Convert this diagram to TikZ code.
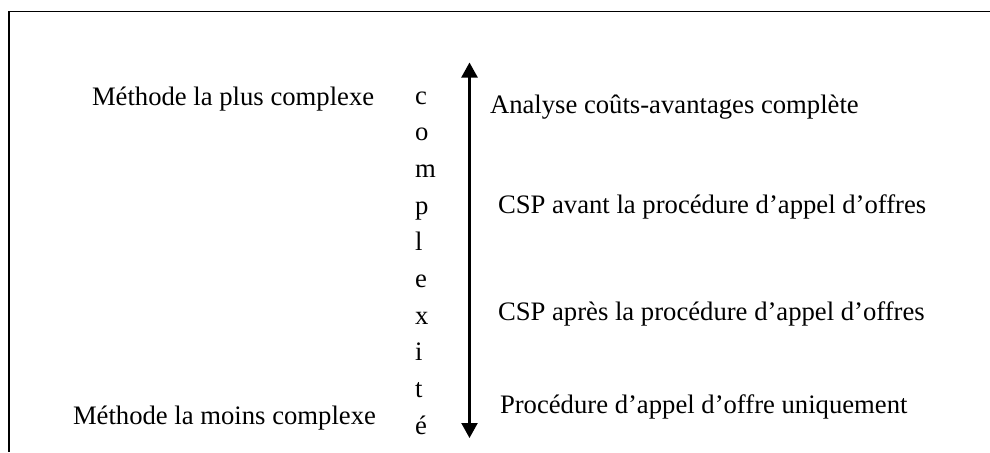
\documentclass[tikz,border=0pt]{standalone}
\usepackage{fontspec}
\setmainfont{Liberation Serif}
\usetikzlibrary{arrows.meta}
\begin{document}
\begin{tikzpicture}[x=0.45pt,y=-0.45pt,
  lbl/.style={anchor=base west, inner sep=0pt, outer sep=0pt, font=\fontsize{12}{14}\selectfont},
  frame/.style={line width=0.6pt},
  scalearrow/.style={line width=1pt,
    {Triangle[length=6.75pt,width=7.2pt]}-{Triangle[length=6.75pt,width=7.2pt]}}]
\useasboundingbox (0,0) rectangle (990,452);

% open frame: top and left edges
\coordinate (ftr) at (990,11.5);
\coordinate (ftl) at (9,11.5);
\coordinate (fbl) at (9,452);
\draw[frame] (ftr) -- (ftl) -- (fbl);

% complexity scale
\coordinate (top) at (469.5,62.5);
\coordinate (bot) at (469.5,438);
\draw[scalearrow] (bot) -- (top);

% the word "complexité" written vertically
\foreach \ch [count=\i from 0] in {c,o,m,p,l,e,x,i,t,é}
  \node[lbl] (v\i) at (415,{104+36.7*\i}) {\ch};

% extremes of the scale
\node[lbl] (mplus) at (92,105) {Méthode la plus complexe};
\node[lbl] (mmoins) at (73,424) {Méthode la moins complexe};

% methods, from most to least complex
\node[lbl] (acb) at (490,113) {Analyse coûts-avantages complète};
\node[lbl] (cspav) at (498,213) {CSP avant la procédure d’appel d’offres};
\node[lbl] (cspap) at (498,320) {CSP après la procédure d’appel d’offres};
\node[lbl] (proc) at (500,413) {Procédure d’appel d’offre uniquement};
\end{tikzpicture}
\end{document}
